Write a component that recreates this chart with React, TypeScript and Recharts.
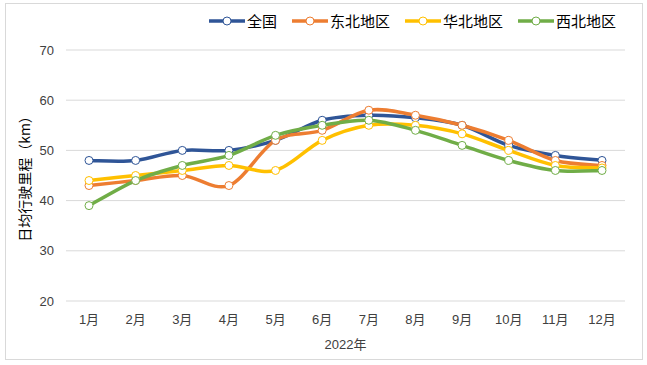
import React from 'react';
import { LineChart, Line, XAxis, YAxis, CartesianGrid } from 'recharts';

const months = ['1月', '2月', '3月', '4月', '5月', '6月', '7月', '8月', '9月', '10月', '11月', '12月'];
const national = [48, 48, 50, 50, 52, 56, 57, 56.5, 55, 51, 49, 48];
const northeast = [43, 44, 45, 43, 52, 54, 58, 57, 55, 52, 48, 47];
const north = [44, 45, 46, 47, 46, 52, 55, 55, 53.3, 50, 47, 46.5];
const northwest = [39, 44, 47, 49, 53, 55, 56, 54, 51, 48, 46, 46];
const yTicks = [20, 30, 40, 50, 60, 70];

const seriesDefs = [
  { key: 'national', name: '全国', color: '#2F5597', values: national },
  { key: 'northeast', name: '东北地区', color: '#ED7D31', values: northeast },
  { key: 'north', name: '华北地区', color: '#FFC000', values: north },
  { key: 'northwest', name: '西北地区', color: '#70AD47', values: northwest },
];

const data = months.map((m, i) => {
  const row: Record<string, any> = { month: m };
  seriesDefs.forEach((s) => {
    row[s.key] = s.values[i];
  });
  return row;
});

// Excel-like smoothing (Catmull-Rom / cardinal tension 0)
const excelSmooth = (context: any) => {
  let pts: number[][] = [];
  return {
    areaStart() {},
    areaEnd() {},
    lineStart() {
      pts = [];
    },
    lineEnd() {
      const n = pts.length;
      if (n === 0) return;
      context.moveTo(pts[0][0], pts[0][1]);
      for (let i = 0; i < n - 1; i++) {
        const p0 = pts[Math.max(i - 1, 0)];
        const p1 = pts[i];
        const p2 = pts[i + 1];
        const p3 = pts[Math.min(i + 2, n - 1)];
        context.bezierCurveTo(
          p1[0] + (p2[0] - p0[0]) / 6,
          p1[1] + (p2[1] - p0[1]) / 6,
          p2[0] - (p3[0] - p1[0]) / 6,
          p2[1] - (p3[1] - p1[1]) / 6,
          p2[0],
          p2[1]
        );
      }
    },
    point(x: number, y: number) {
      pts.push([+x, +y]);
    },
  };
};

const FONT = "'Liberation Sans', 'Noto Sans CJK SC', sans-serif";
const CJK = "'Noto Sans CJK SC', sans-serif";

const LegendBar = () => (
  <div
    style={{
      position: 'absolute',
      left: 209,
      top: 12,
      display: 'flex',
      alignItems: 'center',
      fontFamily: CJK,
      fontSize: 15,
      color: '#000',
      lineHeight: '18px',
    }}
  >
    {seriesDefs.map((s) => (
      <div key={s.key} style={{ display: 'flex', alignItems: 'center', marginRight: 15 }}>
        <svg width={36} height={12} style={{ display: 'block' }}>
          <line x1={0} y1={6} x2={36} y2={6} stroke={s.color} strokeWidth={3.5} />
          <circle cx={18} cy={6} r={4} fill="#fff" stroke={s.color} strokeWidth={1} />
        </svg>
        <span style={{ marginLeft: 2 }}>{s.name}</span>
      </div>
    ))}
  </div>
);

export default function App() {
  return (
    <div style={{ position: 'absolute', left: 0, top: 0, width: 647, height: 365, background: '#fff' }}>
      <div
        style={{
          position: 'absolute',
          left: 5,
          top: 3,
          width: 638,
          height: 357,
          border: '1px solid #D9D9D9',
          boxSizing: 'border-box',
        }}
      />
      <LineChart
        width={647}
        height={365}
        data={data}
        margin={{ top: 50, right: 22, bottom: 0, left: 0 }}
        style={{ position: 'absolute', left: 0, top: 0 }}
      >
        <CartesianGrid vertical={false} stroke="#D9D9D9" strokeWidth={1} />
        <XAxis
          dataKey="month"
          height={64}
          padding={{ left: 23, right: 23 }}
          axisLine={false}
          tickLine={false}
          tickSize={0}
          tickMargin={14}
          interval={0}
          tick={{ fontSize: 13, fill: '#404040', fontFamily: FONT }}
          label={{
            value: '2022年',
            position: 'insideBottom',
            offset: 16,
            style: { fontSize: 13, fill: '#404040', fontFamily: FONT },
          }}
        />
        <YAxis
          width={66}
          domain={[20, 70]}
          ticks={yTicks}
          axisLine={false}
          tickLine={false}
          tickSize={0}
          tickMargin={12}
          tick={{ fontSize: 13, fill: '#404040', fontFamily: FONT }}
          label={{
            value: '日均行驶里程（km）',
            angle: -90,
            position: 'insideLeft',
            offset: 25,
            style: { textAnchor: 'middle', fontSize: 14, fill: '#000', fontFamily: CJK },
          }}
        />
        {seriesDefs.map((s) => (
          <Line
            key={s.key}
            dataKey={s.key}
            name={s.name}
            type={excelSmooth as any}
            stroke={s.color}
            strokeWidth={3.5}
            dot={{ r: 4, fill: '#fff', stroke: s.color, strokeWidth: 1 }}
            activeDot={false}
            isAnimationActive={false}
          />
        ))}
      </LineChart>
      <LegendBar />
    </div>
  );
}
